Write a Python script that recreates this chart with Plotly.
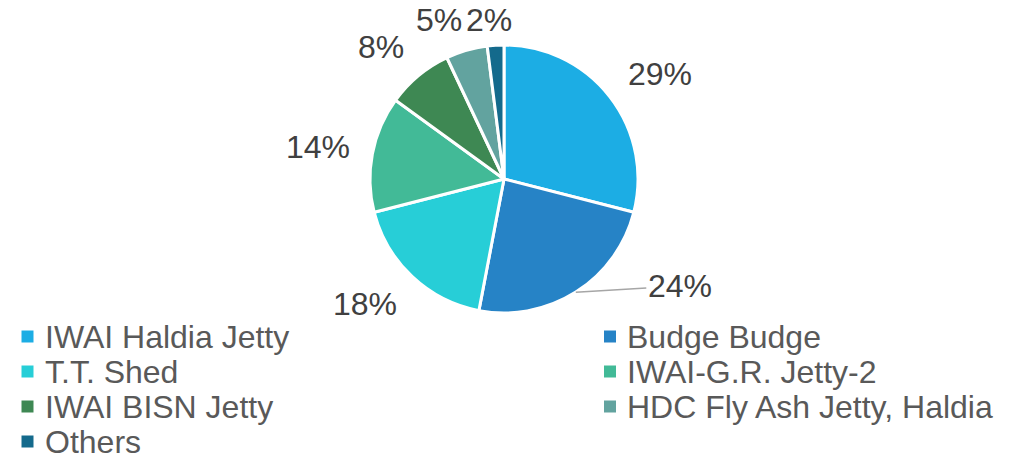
import math
import plotly.graph_objects as go

# ---- data ----
categories = ["IWAI Haldia Jetty", "Budge Budge", "T.T. Shed", "IWAI-G.R. Jetty-2",
              "IWAI BISN Jetty", "HDC Fly Ash Jetty, Haldia", "Others"]
values = [29, 24, 18, 14, 8, 5, 2]
colors = ["#1CADE4", "#2683C6", "#27CED7", "#42BA97", "#3E8853", "#62A39F", "#146A8C"]

# ---- layout constants (pixels) ----
W, H = 1028, 456
cx, cy, r = 504, 179, 134
FONT = "Liberation Sans, Arial, sans-serif"
FS = 32
label_gap_x = 23
label_gap_y = 37
label_min_y = 20
# labels that are pulled away with a leader line: pixel offset of the text from the slice edge
leader_offsets = {"Budge Budge": (104, -6)}

legend_cols_x = [27.5, 610]
legend_row0_y = 336.5
legend_row_step = 35
legend_sq = 12


def px(x):
    return x / W


def py(y):
    return 1 - y / H


fig = go.Figure(go.Pie(
    labels=categories,
    values=values,
    sort=False,
    direction="clockwise",
    rotation=0,
    marker=dict(colors=colors, line=dict(color="white", width=3)),
    textinfo="none",
    domain=dict(x=[px(cx - r), px(cx + r)], y=[py(cy + r), py(cy - r)]),
    showlegend=False,
    hoverinfo="label+percent",
))

# ---- percentage labels (positions derived from slice mid-angles) ----
total = sum(values)
annotations = []
cum = 0
for cat, v in zip(categories, values):
    mid = (cum + v / 2) / total * 2 * math.pi
    cum += v
    ux, uy = math.sin(mid), -math.cos(mid)
    ex, ey = cx + r * ux, cy + r * uy
    txt = f"{round(100 * v / total)}%"
    digits = len(txt) - 1
    tw = (0.556 * digits + 0.889) * FS
    if cat in leader_offsets:
        ox, oy = leader_offsets[cat]
        annotations.append(dict(
            x=px(ex), y=py(ey), xref="paper", yref="paper",
            text=txt, showarrow=True, arrowhead=0, arrowwidth=1.5,
            arrowcolor="#A6A6A6", ax=ox, ay=oy, standoff=0,
            font=dict(family=FONT, size=FS, color="#404040"),
        ))
        continue
    side = max(-1.0, min(1.0, ux / 0.3))
    lx = ex + ux * label_gap_x + side * tw / 2
    ly = max(label_min_y, ey + uy * label_gap_y)
    annotations.append(dict(
        x=px(lx), y=py(ly), xref="paper", yref="paper",
        text=txt, showarrow=False, xanchor="center", yanchor="middle",
        font=dict(family=FONT, size=FS, color="#404040"),
    ))

# ---- legend (two columns, filled row by row) ----
shapes = []
for i, (cat, col) in enumerate(zip(categories, colors)):
    row, c = divmod(i, 2)
    sx = legend_cols_x[c]
    sy = legend_row0_y + row * legend_row_step
    shapes.append(dict(
        type="rect", xref="paper", yref="paper",
        x0=px(sx - legend_sq / 2), x1=px(sx + legend_sq / 2),
        y0=py(sy + legend_sq / 2), y1=py(sy - legend_sq / 2),
        fillcolor=col, line=dict(width=0),
    ))
    annotations.append(dict(
        x=px(sx + 15), y=py(sy), xref="paper", yref="paper",
        text=cat, showarrow=False, xanchor="left", yanchor="middle",
        font=dict(family=FONT, size=FS, color="#595959"),
    ))

fig.update_layout(
    width=W, height=H,
    margin=dict(l=0, r=0, t=0, b=0),
    paper_bgcolor="white",
    plot_bgcolor="white",
    showlegend=False,
    annotations=annotations,
    shapes=shapes,
)

fig.write_html("out.html")
